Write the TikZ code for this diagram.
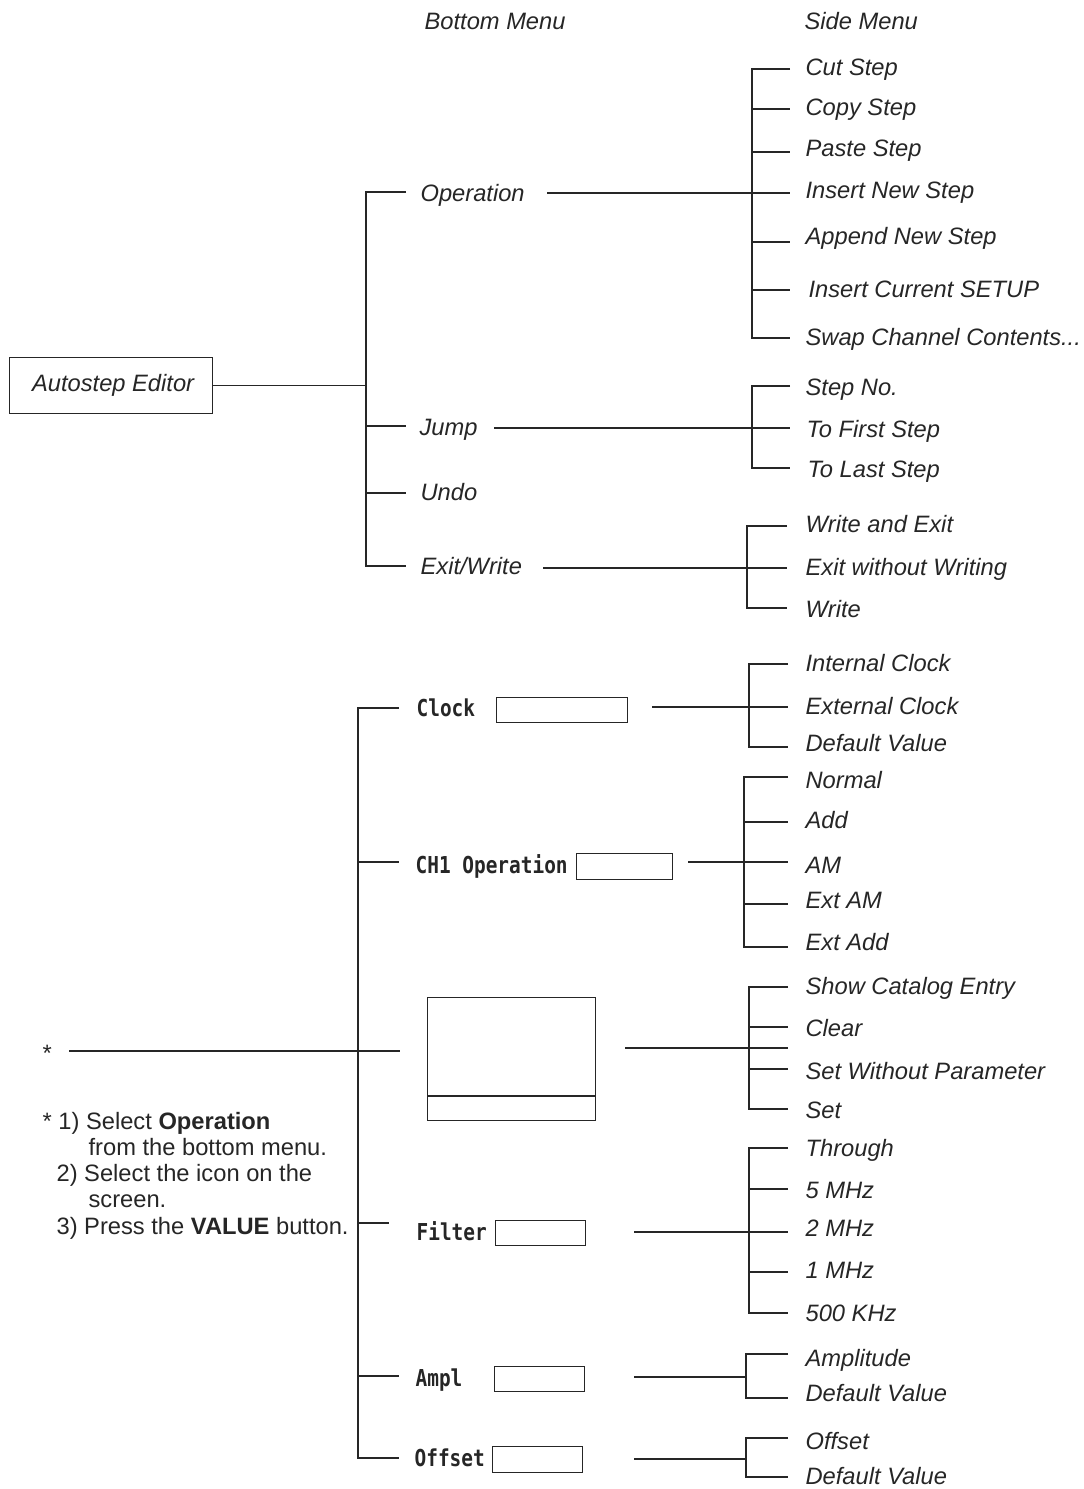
\documentclass[tikz,border=0pt]{standalone}
\usepackage{fontspec}
\setmainfont{Liberation Sans}
\newfontfamily\lcd{DejaVu Sans Mono}[FakeStretch=0.834]
\begin{document}
\begin{tikzpicture}[x=1pt,y=-1pt,
  every path/.style={line width=1.2pt, color=black!85},
  txt/.style={inner sep=0pt, anchor=west, text height=17pt, text depth=0pt,
    font=\fontsize{23.7}{28}\selectfont\itshape, text=black!85},
  note/.style={inner sep=0pt, anchor=west, text height=17pt, text depth=0pt,
    font=\fontsize{23.7}{28}\selectfont, text=black!85},
  mono/.style={inner sep=0pt, anchor=west, text height=17pt, text depth=0pt,
    font=\fontsize{23.3}{28}\selectfont\lcd\bfseries, text=black!85},
  fieldbox/.style={draw, line width=1.4pt, inner sep=0pt, anchor=north west}]
\useasboundingbox (0,0) rectangle (1084,1489);

% headers
\node[txt] (hb) at (424,21) {Bottom Menu};
\node[txt] (hs) at (804,21) {Side Menu};

% root
\node[draw, line width=1.2pt, inner sep=0pt, minimum width=203, minimum height=56,
  anchor=north west, font=\fontsize{23.7}{28}\selectfont\itshape, text=black!85] (ae) at (9,357) {\hspace*{4pt}Autostep Editor};
\coordinate (tA) at (366,0);
\draw (ae.east) -- (ae.east -| tA);

% bottom menu trunk (top part)
\draw (406,192) -- (366,192) -- (366,566) -- (406,566);
\draw (366,426) -- (406,426);
\draw (366,493) -- (406,493);
\node[txt] (op) at (420,193) {Operation};
\node[txt] (jump) at (419,427) {Jump};
\node[txt] (undo) at (420,492) {Undo};
\node[txt] (exw) at (420,566) {Exit/Write};

% Operation side menu
\draw (547,193) -- (790,193);
\draw (790,69) -- (752,69) -- (752,338) -- (790,338);
\foreach \yy in {109,152,242,290} \draw (752,\yy) -- (790,\yy);
\node[txt] (s1) at (805,67) {Cut Step};
\node[txt] (s2) at (805,107) {Copy Step};
\node[txt] (s3) at (805,148) {Paste Step};
\node[txt] (s4) at (805,190) {Insert New Step};
\node[txt] (s5) at (805,236) {Append New Step};
\node[txt] (s6) at (808,289) {Insert Current SETUP};
\node[txt] (s7) at (805,337) {Swap Channel Contents...};

% Jump side menu
\draw (494,428) -- (790,428);
\draw (790,386) -- (752,386) -- (752,468) -- (790,468);
\node[txt] (j1) at (805,387) {Step No.};
\node[txt] (j2) at (806,429) {To First Step};
\node[txt] (j3) at (807,469) {To Last Step};

% Exit/Write side menu
\draw (543,568) -- (787,568);
\draw (787,526) -- (747,526) -- (747,608) -- (787,608);
\node[txt] (w1) at (805,524) {Write and Exit};
\node[txt] (w2) at (805,567) {Exit without Writing};
\node[txt] (w3) at (805,609) {Write};

% lower trunk
\draw (399,708) -- (358,708) -- (358,1458) -- (399,1458);
\draw (358,862) -- (399,862);
\draw (358,1223) -- (389,1223);
\draw (358,1376) -- (399,1376);

% Clock
\node[mono] (clk) at (416,708) {Clock};
\node[fieldbox, minimum width=131, minimum height=25] (clkb) at (496,697) {};
\draw (652,707) -- (788,707);
\draw (788,664) -- (749,664) -- (749,747) -- (788,747);
\node[txt] (c1) at (805,663) {Internal Clock};
\node[txt] (c2) at (805,706) {External Clock};
\node[txt] (c3) at (805,743) {Default Value};

% CH1 Operation
\node[mono] (ch1) at (415,865) {CH1 Operation};
\node[fieldbox, minimum width=96, minimum height=26] (ch1b) at (576,853) {};
\draw (688,862) -- (788,862);
\draw (788,777) -- (744,777) -- (744,947) -- (788,947);
\foreach \yy in {822,904} \draw (744,\yy) -- (788,\yy);
\node[txt] (o1) at (805,780) {Normal};
\node[txt] (o2) at (805,820) {Add};
\node[txt] (o3) at (805,865) {AM};
\node[txt] (o4) at (805,900) {Ext AM};
\node[txt] (o5) at (805,942) {Ext Add};

% icon
\node[note] (star) at (42,1053) {*};
\draw (69,1051) -- (400,1051);
\node[fieldbox, minimum width=168, minimum height=123] (icon) at (427,997) {};
\draw[line width=1.4pt] (427,1096) -- (595,1096);
\draw (625,1048) -- (788,1048);
\draw (788,987) -- (749,987) -- (749,1109) -- (788,1109);
\foreach \yy in {1027,1069} \draw (749,\yy) -- (788,\yy);
\node[txt] (i1) at (805,986) {Show Catalog Entry};
\node[txt] (i2) at (805,1028) {Clear};
\node[txt] (i3) at (805,1071) {Set Without Parameter};
\node[txt] (i4) at (805,1110) {Set};

% notes
\node[note] (n1) at (42,1121) {* 1) Select \textbf{Operation}};
\node[note] (n2) at (88,1147) {from the bottom menu.};
\node[note] (n3) at (56,1173) {2) Select the icon on the};
\node[note] (n4) at (88,1199) {screen.};
\node[note] (n5) at (56,1226) {3) Press the \textbf{VALUE} button.};

% Filter
\node[mono] (flt) at (416,1232) {Filter};
\node[fieldbox, minimum width=90, minimum height=25] (fltb) at (495,1220) {};
\draw (634,1232) -- (788,1232);
\draw (788,1148) -- (749,1148) -- (749,1313) -- (788,1313);
\foreach \yy in {1189,1272} \draw (749,\yy) -- (788,\yy);
\node[txt] (f1) at (805,1148) {Through};
\node[txt] (f2) at (805,1190) {5 MHz};
\node[txt] (f3) at (805,1228) {2 MHz};
\node[txt] (f4) at (805,1270) {1 MHz};
\node[txt] (f5) at (805,1313) {500 KHz};

% Ampl
\node[mono] (amp) at (415,1378) {Ampl};
\node[fieldbox, minimum width=90, minimum height=25] (ampb) at (494,1366) {};
\draw (634,1377) -- (746,1377);
\draw (788,1354) -- (746,1354) -- (746,1398) -- (788,1398);
\node[txt] (a1) at (805,1358) {Amplitude};
\node[txt] (a2) at (805,1393) {Default Value};

% Offset
\node[mono] (ofs) at (414,1458) {Offset};
\node[fieldbox, minimum width=90, minimum height=26] (ofsb) at (492,1446) {};
\draw (634,1459) -- (746,1459);
\draw (788,1438) -- (746,1438) -- (746,1477) -- (788,1477);
\node[txt] (b1) at (805,1441) {Offset};
\node[txt] (b2) at (805,1476) {Default Value};
\end{tikzpicture}
\end{document}
